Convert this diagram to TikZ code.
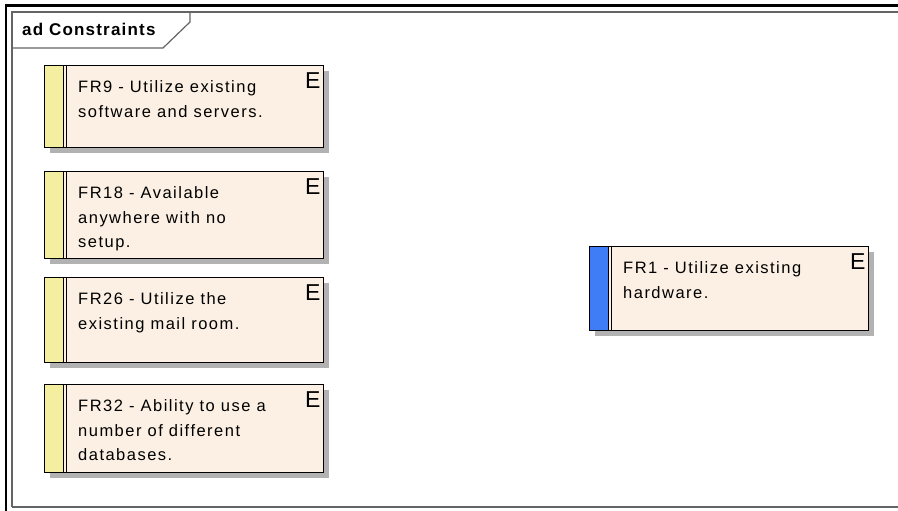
\documentclass[tikz,border=0pt]{standalone}
\usepackage{fontspec}
\setmainfont{Liberation Sans}
\newfontfamily\reqfont[LetterSpace=9]{Liberation Sans}
\newfontfamily\tabfont[LetterSpace=7]{Liberation Sans}
\usetikzlibrary{shadows}
\definecolor{reqfill}{RGB}{251,240,227}
\definecolor{stripyellow}{RGB}{243,238,160}
\definecolor{stripblue}{RGB}{62,125,245}
\definecolor{shadowgray}{RGB}{178,178,178}
\definecolor{framegray}{RGB}{100,100,100}
\tikzset{
  reqbox/.style={draw=black, line width=1.2pt, fill=reqfill, anchor=north west,
    inner sep=0pt, minimum width=279pt,
    general shadow={fill=shadowgray, draw=none, shadow xshift=5pt, shadow yshift=-5pt},
    path picture={
      \fill[#1] (path picture bounding box.north west) rectangle ([xshift=18.5pt]path picture bounding box.south west);
      \draw[line width=1.1pt] ([xshift=18.5pt]path picture bounding box.north west) -- ([xshift=18.5pt]path picture bounding box.south west);
      \draw[line width=1.1pt] ([xshift=21.8pt]path picture bounding box.north west) -- ([xshift=21.8pt]path picture bounding box.south west);
    }},
  reqtext/.style={font=\reqfont\fontsize{16.5}{24.5}\selectfont, align=left, inner sep=0pt, anchor=north west},
  etext/.style={font=\fontsize{23}{23}\selectfont, inner sep=0pt, anchor=north east},
  tabtext/.style={font=\tabfont\bfseries\fontsize{17}{20}\selectfont, inner sep=0pt, anchor=base west},
  frameline/.style={draw=framegray, line width=1.2pt}
}
\begin{document}
\begin{tikzpicture}[x=1pt, y=-1pt]
\clip (0,0) rectangle (898,511);
\fill[white] (0,0) rectangle (898,511);
% outer thick frame
\draw[line width=2.5pt] (5.8,520) -- (5.8,5.3) -- (910,5.3);
% inner frame
\draw[frameline] (12,507) -- (12,12) -- (910,12);
\draw[frameline] (12,507) -- (910,507);
% tab
\draw[frameline] (190,12) -- (190,22) -- (163,48) -- (12,48);
\node[tabtext] (tab) at (22,36) {ad Constraints};

% requirements
\node[reqbox=stripyellow, minimum height=82pt] (fr9) at (44,65) {};
\node[reqtext] (fr9t) at ([xshift=34pt, yshift=-15.5pt]fr9.north west) {FR9 - Utilize existing\\software and servers.};
\node[etext] (fr9e) at ([xshift=-3.5pt, yshift=-7pt]fr9.north east) {E};

\node[reqbox=stripyellow, minimum height=87pt] (fr18) at (44,171) {};
\node[reqtext] (fr18t) at ([xshift=34pt, yshift=-15.5pt]fr18.north west) {FR18 - Available\\anywhere with no\\setup.};
\node[etext] (fr18e) at ([xshift=-3.5pt, yshift=-7pt]fr18.north east) {E};

\node[reqbox=stripyellow, minimum height=85pt] (fr26) at (44,277) {};
\node[reqtext] (fr26t) at ([xshift=34pt, yshift=-15.5pt]fr26.north west) {FR26 - Utilize the\\existing mail room.};
\node[etext] (fr26e) at ([xshift=-3.5pt, yshift=-7pt]fr26.north east) {E};

\node[reqbox=stripyellow, minimum height=88pt] (fr32) at (44,384) {};
\node[reqtext] (fr32t) at ([xshift=34pt, yshift=-15.5pt]fr32.north west) {FR32 - Ability to use a\\number of different\\databases.};
\node[etext] (fr32e) at ([xshift=-3.5pt, yshift=-7pt]fr32.north east) {E};

\node[reqbox=stripblue, minimum height=84pt] (fr1) at (589,246) {};
\node[reqtext] (fr1t) at ([xshift=34pt, yshift=-15.5pt]fr1.north west) {FR1 - Utilize existing\\hardware.};
\node[etext] (fr1e) at ([xshift=-3.5pt, yshift=-7pt]fr1.north east) {E};
\end{tikzpicture}
\end{document}
